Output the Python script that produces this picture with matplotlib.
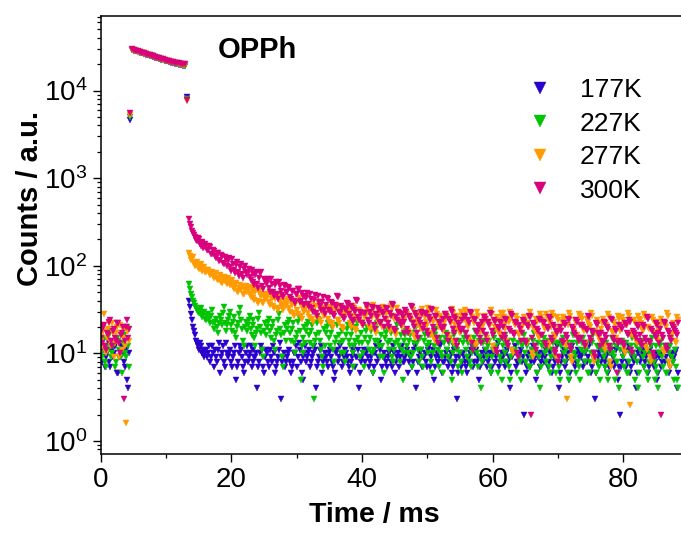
import numpy as np
import matplotlib
matplotlib.use("Agg")
import matplotlib.pyplot as plt
from matplotlib.ticker import LogLocator, MultipleLocator

plt.rcParams['font.family'] = ['Liberation Sans', 'DejaVu Sans']
plt.rcParams['mathtext.default'] = 'regular'

labels = ["177K", "227K", "277K", "300K"]
colors = ["#2a00cc", "#00c400", "#ff9a00", "#d9007e"]

# sampling of the four segments (ms)
pre_step = 0.15      # background, from 0 ms
t_rise = 4.5         # rising edge point
plat_start, plat_step = 4.8, 0.3
t_fall = 13.2        # falling edge point
tail_start, tail_step = 13.5, 0.15

# background before the pulse
pre_177 = [10, 9, 8, 11, 12, 7, 9, 10, 14, 8, 7, 11, 11, 9, 10,
           12, 13, 6, 6, 9, 9, 12, 12, 10, 8, 7, 11, 5, 4, 10]
pre_227 = [12, 10, 9, 14, 15, 8, 7, 12, 11, 16, 18, 9, 10, 12, 13,
           7, 8, 15, 14, 11, 11, 9, 6, 13, 16, 10, 9, 20, 12, 7]
pre_277 = [16, 14, 12, 18, 28, 11, 10, 15, 19, 22, 14, 12, 22, 17, 9,
           13, 17, 20, 13, 9, 21, 16, 11, 19, 15, 12, 1.6, 18, 18, 14]
pre_300 = [18, 15, 13, 20, 21, 12, 11, 17, 16, 23, 24, 14, 12, 18, 19,
           15, 14, 22, 22, 13, 10, 16, 17, 20, 3, 14, 20, 24, 15, 19]

rise = [4600, 5000, 5300, 5600]
fall = [8400, 8000, 7600, 7900]

# pulse on
plat_177 = [29000, 28500, 28000, 27500, 27100, 26600, 26200, 25700, 25300, 24900,
            24500, 24100, 23700, 23300, 22900, 22500, 22200, 21800, 21500, 21200,
            20900, 20600, 20300, 20000, 19800, 19500, 19300, 19100]
plat_227 = [29200, 28700, 28200, 27700, 27200, 26800, 26300, 25900, 25500, 25100,
            24700, 24300, 23900, 23500, 23100, 22700, 22300, 22000, 21600, 21300,
            21000, 20700, 20400, 20100, 19900, 19600, 19400, 19200]
plat_277 = [29400, 28900, 28400, 27900, 27400, 27000, 26500, 26100, 25700, 25300,
            24900, 24500, 24100, 23700, 23300, 22900, 22600, 22200, 21900, 21600,
            21300, 21000, 20700, 20500, 20200, 20000, 19800, 19700]
plat_300 = [29600, 29100, 28600, 28100, 27600, 27100, 26700, 26200, 25800, 25400,
            25000, 24600, 24200, 23800, 23400, 23000, 22700, 22300, 22000, 21700,
            21400, 21100, 20800, 20600, 20400, 20200, 20000, 19900]

# decay after the pulse, 20 readings per 3 ms
tail_177 = [40, 34, 28, 24, 20, 18, 16, 14, 13, 12, 11, 13, 12, 10, 10, 11, 9, 10, 11, 9,
            10, 12, 8, 9, 12, 10, 7, 11, 9, 8, 11, 13, 6, 9, 10, 12, 8, 7, 13, 10,
            9, 10, 11, 8, 7, 9, 10, 12, 5, 7, 8, 10, 12, 11, 9, 7, 6, 8, 10, 12,
            8, 9, 10, 12, 7, 8, 11, 9, 9, 10, 4, 7, 8, 10, 12, 11, 7, 6, 9, 11,
            10, 8, 7, 11, 9, 8, 12, 10, 6, 7, 8, 9, 11, 13, 3, 8, 9, 10, 7, 8,
            9, 10, 11, 8, 6, 7, 8, 10, 10, 12, 7, 9, 13, 11, 8, 6, 5, 9, 10, 12,
            8, 9, 10, 11, 7, 8, 9, 10, 12, 11, 4, 7, 8, 9, 11, 12, 6, 8, 9, 10,
            9, 8, 7, 10, 11, 9, 8, 7, 5, 6, 10, 11, 8, 9, 12, 10, 7, 8, 9, 11,
            10, 9, 8, 7, 6, 8, 9, 10, 11, 12, 7, 9, 9, 11, 4, 6, 8, 9, 10, 11,
            8, 10, 11, 9, 7, 8, 9, 10, 6, 7, 10, 12, 8, 9, 13, 11, 5, 7, 9, 10,
            9, 8, 7, 9, 10, 11, 8, 7, 12, 10, 6, 8, 9, 10, 7, 9, 11, 12, 8, 9,
            8, 9, 10, 11, 6, 8, 9, 10, 7, 8, 11, 12, 4, 6, 8, 9, 10, 11, 7, 9,
            9, 10, 8, 7, 11, 12, 7, 9, 10, 11, 5, 7, 9, 10, 8, 9, 12, 13, 6, 8,
            8, 9, 10, 11, 7, 8, 9, 10, 6, 7, 11, 12, 8, 9, 3, 6, 9, 10, 7, 8,
            10, 9, 8, 7, 6, 8, 9, 10, 11, 12, 7, 8, 10, 11, 8, 9, 5, 7, 9, 10,
            8, 9, 11, 10, 7, 8, 9, 10, 6, 7, 10, 11, 8, 9, 12, 13, 7, 8, 9, 10,
            9, 10, 7, 8, 10, 11, 8, 9, 4, 6, 9, 10, 11, 12, 7, 8, 8, 9, 10, 11,
            8, 9, 2, 8, 6, 7, 9, 10, 7, 8, 11, 12, 8, 9, 5, 6, 9, 10, 7, 8,
            9, 10, 8, 9, 11, 12, 7, 8, 10, 11, 6, 7, 9, 10, 8, 9, 12, 13, 4, 6,
            8, 9, 10, 11, 7, 8, 9, 10, 5, 6, 11, 12, 8, 9, 7, 8, 10, 11, 9, 10,
            9, 10, 7, 8, 10, 11, 8, 9, 12, 13, 6, 7, 9, 10, 3, 6, 8, 9, 10, 11,
            8, 9, 11, 12, 7, 8, 9, 10, 6, 7, 10, 11, 8, 9, 7, 8, 11, 12, 5, 7,
            2, 7, 8, 9, 10, 11, 7, 8, 11, 12, 6, 7, 9, 10, 8, 9, 4, 6, 10, 11,
            8, 9, 10, 11, 7, 8, 9, 10, 6, 7, 11, 12, 8, 9, 7, 8, 9, 10, 5, 6,
            9, 10, 7, 8, 10, 11, 8, 9, 11, 12, 6, 7, 9, 10, 8, 9, 10, 11, 4, 6]
tail_227 = [62, 54, 48, 44, 40, 38, 35, 33, 31, 30, 29, 31, 33, 28, 26, 29, 30, 25, 24, 27,
            28, 25, 22, 27, 31, 22, 19, 23, 25, 20, 17, 22, 27, 24, 21, 29, 34, 22, 18, 21,
            24, 27, 30, 21, 18, 23, 26, 17, 15, 20, 22, 28, 33, 24, 19, 14, 12, 20, 23, 18,
            21, 24, 27, 19, 16, 21, 24, 15, 12, 17, 19, 25, 29, 20, 17, 11, 9, 18, 22, 16,
            20, 23, 25, 18, 15, 20, 23, 14, 11, 16, 18, 24, 28, 19, 16, 9, 7, 17, 21, 14,
            19, 22, 24, 17, 14, 19, 22, 13, 10, 15, 17, 23, 26, 18, 5, 12, 15, 10, 20, 13,
            18, 21, 23, 16, 13, 18, 21, 12, 3, 14, 16, 22, 25, 17, 14, 11, 9, 7, 19, 12,
            17, 20, 22, 15, 12, 17, 20, 11, 8, 13, 15, 21, 24, 16, 13, 10, 18, 14, 10, 8,
            16, 19, 21, 14, 12, 16, 19, 10, 7, 12, 14, 20, 23, 15, 13, 9, 17, 13, 10, 7,
            15, 18, 20, 13, 11, 15, 18, 10, 6, 11, 14, 19, 22, 14, 12, 9, 16, 12, 9, 6,
            15, 17, 19, 13, 11, 14, 17, 9, 8, 11, 13, 18, 21, 14, 12, 8, 16, 11, 5, 10,
            14, 16, 18, 12, 10, 14, 16, 9, 7, 10, 13, 17, 20, 13, 11, 8, 15, 11, 9, 7,
            14, 16, 18, 12, 10, 13, 16, 8, 6, 10, 12, 16, 19, 13, 11, 7, 15, 10, 9, 6,
            13, 15, 17, 11, 9, 13, 15, 8, 5, 10, 12, 16, 19, 12, 11, 7, 14, 10, 8, 6,
            13, 15, 17, 11, 9, 13, 15, 8, 7, 10, 12, 15, 18, 12, 10, 7, 14, 9, 4, 8,
            13, 14, 16, 11, 9, 12, 14, 7, 6, 9, 11, 15, 18, 12, 10, 6, 14, 9, 8, 5,
            12, 14, 16, 10, 8, 12, 14, 7, 5, 9, 11, 14, 17, 11, 10, 6, 13, 9, 8, 5,
            12, 14, 16, 10, 8, 12, 14, 7, 7, 9, 11, 14, 17, 11, 10, 6, 13, 9, 4, 7,
            12, 13, 15, 10, 8, 11, 14, 7, 6, 9, 11, 13, 16, 11, 9, 6, 13, 8, 7, 5,
            12, 13, 15, 10, 8, 11, 13, 6, 5, 9, 11, 13, 16, 10, 9, 6, 13, 8, 7, 5,
            11, 13, 15, 10, 8, 11, 13, 6, 6, 8, 10, 13, 16, 10, 9, 6, 12, 8, 7, 5,
            11, 13, 14, 9, 7, 10, 13, 6, 5, 8, 10, 12, 15, 10, 9, 5, 12, 8, 6, 4,
            11, 13, 14, 9, 7, 10, 13, 6, 6, 8, 10, 12, 15, 10, 9, 5, 12, 8, 4, 6,
            11, 12, 14, 9, 7, 10, 12, 6, 5, 8, 10, 12, 15, 9, 8, 5, 12, 7, 6, 4,
            10, 12, 14, 9, 7, 10, 12, 6, 6, 8, 10, 12, 15, 9, 8, 5, 11, 7, 5, 4]
tail_277 = [140, 128, 115, 120, 125, 108, 100, 104, 110, 96, 92, 99, 105, 90, 88, 93, 98, 86, 84, 90,
            90, 84, 78, 82, 86, 76, 72, 77, 82, 71, 68, 73, 79, 66, 64, 70, 75, 67, 70, 62,
            72, 66, 60, 64, 68, 58, 55, 60, 64, 52, 50, 56, 61, 54, 57, 48, 47, 53, 58, 50,
            53, 57, 47, 44, 56, 50, 43, 41, 50, 54, 40, 38, 52, 47, 45, 39, 38, 44, 48, 42,
            44, 48, 39, 36, 47, 42, 35, 33, 42, 46, 33, 31, 45, 40, 37, 34, 31, 37, 40, 35,
            38, 42, 33, 30, 41, 36, 29, 27, 36, 40, 31, 28, 43, 38, 27, 25, 35, 32, 30, 34,
            33, 36, 29, 26, 37, 33, 25, 23, 32, 35, 28, 26, 39, 34, 24, 22, 30, 33, 27, 29,
            30, 33, 25, 23, 34, 31, 22, 20, 29, 32, 36, 34, 24, 22, 31, 28, 20, 19, 27, 30,
            28, 31, 33, 30, 22, 20, 27, 25, 35, 33, 19, 18, 26, 24, 31, 29, 23, 21, 29, 27,
            26, 29, 32, 30, 20, 19, 28, 26, 36, 33, 18, 17, 25, 23, 30, 28, 22, 20, 34, 31,
            31, 28, 25, 22, 19, 18, 35, 32, 27, 25, 17, 16, 33, 30, 24, 22, 21, 20, 29, 26,
            24, 27, 30, 28, 18, 17, 26, 24, 34, 31, 16, 15, 23, 21, 28, 26, 20, 19, 32, 29,
            29, 26, 23, 21, 33, 30, 17, 16, 25, 23, 15, 14, 31, 28, 22, 20, 27, 25, 19, 18,
            22, 25, 28, 26, 16, 15, 24, 22, 32, 29, 14, 13, 21, 19, 27, 25, 18, 17, 30, 27,
            26, 24, 31, 28, 22, 20, 15, 14, 28, 26, 24, 22, 13, 12, 30, 27, 18, 17, 21, 20,
            21, 24, 27, 25, 15, 14, 23, 21, 31, 28, 12, 11, 20, 19, 26, 24, 17, 16, 29, 26,
            29, 26, 21, 19, 14, 13, 25, 23, 30, 27, 11, 10, 23, 21, 27, 25, 17, 16, 20, 19,
            20, 23, 26, 24, 14, 13, 22, 20, 30, 27, 10, 9, 19, 18, 25, 23, 16, 15, 28, 26,
            24, 22, 20, 19, 28, 26, 13, 12, 22, 20, 29, 27, 16, 15, 10, 9, 26, 24, 19, 18,
            20, 23, 26, 24, 13, 12, 3, 21, 29, 27, 9, 8, 19, 18, 24, 22, 16, 15, 28, 26,
            27, 25, 19, 18, 13, 12, 25, 23, 21, 20, 29, 27, 9, 8, 18, 17, 24, 22, 15, 14,
            19, 22, 25, 23, 12, 11, 21, 20, 28, 26, 8, 7, 18, 17, 23, 21, 15, 14, 27, 25,
            18, 21, 26, 24, 11, 10, 22, 21, 29, 27, 2.6, 16, 17, 16, 24, 22, 14, 13, 27, 25,
            24, 22, 19, 18, 28, 26, 12, 11, 20, 19, 9, 8, 26, 24, 17, 16, 23, 21, 15, 14,
            18, 21, 25, 23, 11, 10, 21, 20, 29, 27, 8, 7, 17, 16, 22, 20, 14, 13, 26, 24]
tail_300 = [340, 300, 275, 250, 238, 222, 215, 196, 190, 205, 200, 178, 170, 188, 182, 158, 162, 176, 168, 150,
            152, 170, 163, 138, 135, 150, 146, 128, 122, 141, 140, 112, 116, 134, 130, 108, 104, 125, 119, 100,
            112, 124, 96, 88, 118, 104, 90, 82, 102, 110, 84, 76, 97, 106, 80, 72, 92, 99, 86, 78,
            84, 92, 75, 68, 90, 80, 66, 60, 78, 86, 62, 56, 73, 82, 85, 58, 55, 70, 69, 63,
            64, 70, 56, 50, 70, 62, 50, 45, 60, 66, 47, 42, 66, 58, 52, 46, 44, 60, 58, 50,
            50, 57, 56, 44, 42, 52, 51, 40, 38, 48, 47, 55, 54, 39, 40, 49, 45, 37, 36, 44,
            43, 49, 37, 34, 48, 42, 33, 30, 41, 46, 29, 27, 45, 39, 35, 31, 39, 44, 31, 28,
            36, 43, 42, 31, 30, 39, 38, 28, 27, 36, 34, 45, 44, 30, 29, 35, 33, 26, 25, 32,
            31, 38, 37, 28, 26, 35, 33, 24, 23, 31, 30, 41, 40, 26, 24, 30, 28, 22, 21, 29,
            29, 36, 35, 24, 22, 30, 27, 34, 33, 21, 19, 28, 26, 33, 31, 22, 23, 30, 28, 20,
            25, 33, 32, 22, 20, 29, 27, 37, 36, 19, 18, 26, 24, 30, 29, 23, 21, 28, 26, 17,
            23, 31, 30, 19, 17, 27, 25, 35, 34, 22, 20, 29, 27, 17, 15, 24, 22, 30, 28, 19,
            21, 29, 28, 18, 16, 26, 24, 32, 31, 20, 18, 27, 26, 15, 13, 23, 22, 20, 19, 25,
            20, 28, 27, 16, 14, 25, 23, 31, 30, 19, 17, 26, 25, 14, 12, 22, 21, 19, 18, 24,
            19, 27, 26, 17, 15, 24, 22, 30, 29, 13, 11, 25, 24, 18, 17, 21, 20, 15, 13, 23,
            18, 26, 25, 16, 14, 23, 21, 29, 28, 18, 16, 24, 23, 11, 10, 20, 19, 23, 22, 15,
            20, 16, 15, 25, 24, 13, 12, 19, 18, 28, 27, 17, 16, 23, 22, 10, 9, 21, 19, 14,
            17, 24, 23, 14, 13, 21, 20, 27, 26, 2, 15, 22, 21, 12, 11, 19, 18, 25, 24, 16,
            16, 23, 22, 13, 12, 20, 19, 26, 25, 15, 14, 21, 20, 11, 10, 18, 17, 8, 9, 20,
            18, 14, 13, 22, 21, 16, 15, 25, 24, 12, 11, 20, 19, 17, 16, 24, 23, 15, 14, 21,
            15, 21, 20, 13, 12, 19, 18, 27, 26, 15, 14, 18, 17, 10, 9, 22, 21, 17, 16, 12,
            17, 14, 13, 23, 22, 16, 15, 20, 19, 12, 11, 25, 24, 15, 14, 19, 18, 6, 13, 21,
            14, 20, 19, 13, 12, 22, 21, 17, 16, 24, 23, 11, 10, 18, 17, 16, 15, 21, 20, 14,
            16, 13, 12, 21, 20, 15, 14, 26, 25, 14, 13, 19, 18, 10, 9, 16, 15, 22, 21, 17,
            13, 19, 2, 16, 15, 23, 22, 12, 11, 18, 17, 15, 14, 21, 20, 19, 18, 17, 16, 22]

pres = [pre_177, pre_227, pre_277, pre_300]
plats = [plat_177, plat_227, plat_277, plat_300]
tails = [tail_177, tail_227, tail_277, tail_300]

fig = plt.figure(figsize=(6.81, 5.33), dpi=100)
ax = fig.add_axes([0.1476, 0.1482, 0.8524, 0.8218])

for i in range(4):
    t = np.concatenate([
        pre_step * np.arange(len(pres[i])),
        [t_rise],
        plat_start + plat_step * np.arange(len(plats[i])),
        [t_fall],
        tail_start + tail_step * np.arange(len(tails[i])),
    ])
    y = np.concatenate([pres[i], [rise[i]], plats[i], [fall[i]], tails[i]])
    ax.plot(t, y, linestyle='none', marker='v', ms=3.8, color=colors[i],
            mec=colors[i], mew=0.3, label=labels[i])

ax.set_yscale('log')
ax.set_xlim(0, 88.8)
ax.set_ylim(0.71, 7.1e4)

ax.xaxis.set_major_locator(MultipleLocator(20))
ax.xaxis.set_minor_locator(MultipleLocator(10))
ax.yaxis.set_major_locator(LogLocator(base=10, numticks=10))
ax.yaxis.set_minor_locator(LogLocator(base=10, subs=np.arange(2, 10), numticks=10))

ax.spines['right'].set_visible(False)
for s in ['left', 'bottom', 'top']:
    ax.spines[s].set_linewidth(1.1)
ax.tick_params(which='major', direction='out', length=6, width=1.0, labelsize=20)
ax.tick_params(which='minor', direction='out', length=3, width=0.9)
ax.tick_params(top=False, right=False, which='both')

ax.set_xlabel("Time / ms", fontsize=20.5, fontweight='bold')
ax.xaxis.set_label_coords(0.471, -0.139, transform=ax.transAxes)
ax.xaxis.label.set_va('center')
ax.set_ylabel("Counts / a.u.", fontsize=21, fontweight='bold')
ax.yaxis.set_label_coords(-0.122, 0.584, transform=ax.transAxes)
ax.yaxis.label.set_va('center')

ax.text(0.202, 0.922, "OPPh", transform=ax.transAxes, fontsize=21,
        fontweight='bold', ha='left', va='center')

ax.legend(loc='upper left', bbox_to_anchor=(0.711, 0.882), frameon=False,
          fontsize=19, markerscale=2.2, handlelength=1.2, handletextpad=0.93,
          labelspacing=0.36, borderaxespad=0)

fig.savefig("out.png", dpi=100)
